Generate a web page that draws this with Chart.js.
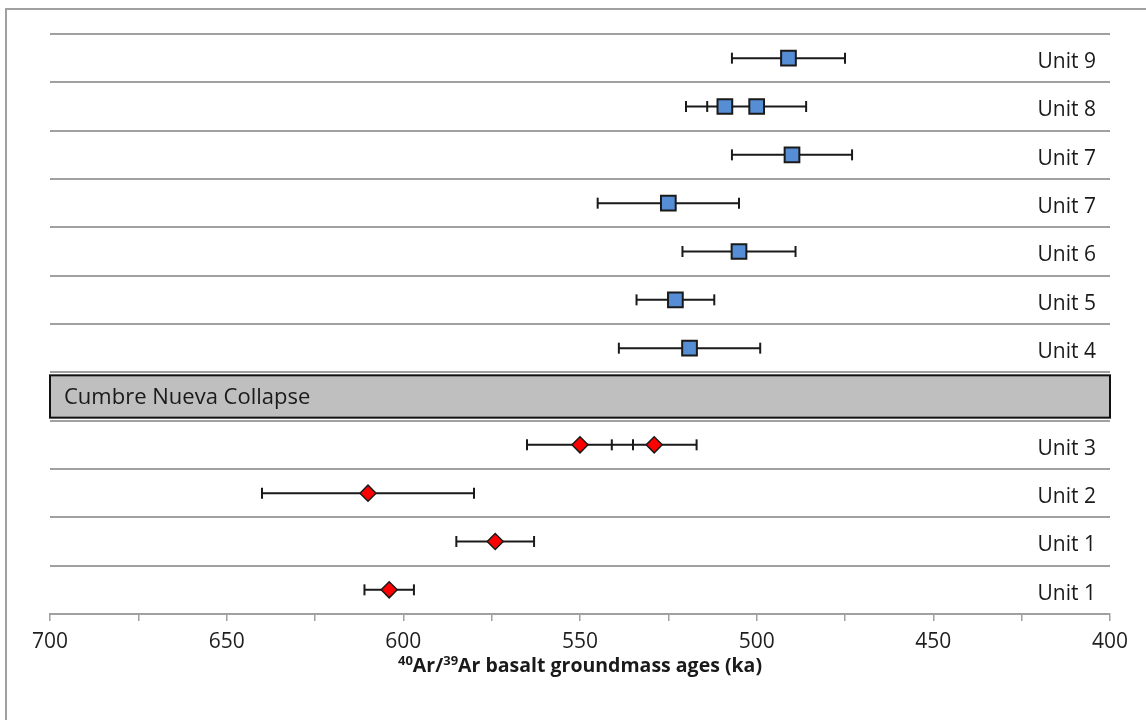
<!DOCTYPE html>
<html>
<head>
<meta charset="utf-8">
<script src="https://cdn.jsdelivr.net/npm/chart.js@4.4.0/dist/chart.umd.min.js"></script>
<style>
  html, body { margin: 0; padding: 0; background: #fff; overflow: hidden; }
  #frame { position: absolute; left: 5px; top: 8px; width: 1200px; height: 800px; border: 2px solid #a0a0a0; box-sizing: border-box; }
  #ageChart { position: absolute; left: 0; top: 0; }
</style>
</head>
<body>
<div id="frame"></div>
<canvas id="ageChart" width="1146" height="720"></canvas>
<script>
// rows top to bottom
var rowLabels = ['Unit 9', 'Unit 8', 'Unit 7', 'Unit 7', 'Unit 6', 'Unit 5', 'Unit 4',
                 'Cumbre Nueva Collapse', 'Unit 3', 'Unit 2', 'Unit 1', 'Unit 1'];
var collapseRow = 7;

// post-collapse ages (ka) and 2-sigma errors
var youngAges = [491, 509, 500, 490, 525, 505, 523, 519];
var youngErrors = [16, 11, 14, 17, 20, 16, 11, 20];
var youngRows = [0, 1, 1, 2, 3, 4, 5, 6];

// pre-collapse ages (ka)
var oldAges = [550, 529, 610, 574, 604];
var oldErrors = [15, 12, 30, 11, 7];
var oldRows = [8, 8, 9, 10, 11];

var labelledTicks = [700, 650, 600, 550, 500, 450, 400];

var toPoints = function(ages, rows) {
	return ages.map(function(a, i) { return { x: a, y: rows[i] + 0.5 }; });
};

// each error bar is a two point segment, broken by a null point
var toBars = function(ages, errs, rows) {
	var out = [];
	ages.forEach(function(a, i) {
		out.push({ x: a - errs[i], y: rows[i] + 0.5 });
		out.push({ x: a + errs[i], y: rows[i] + 0.5 });
		out.push({ x: null, y: null });
	});
	return out;
};

var barStyle = {
	type: 'line',
	borderColor: '#1a1a1a',
	borderWidth: 2,
	pointStyle: 'line',
	pointRotation: 90,
	pointRadius: 5.5,
	pointBorderWidth: 2,
	pointBorderColor: '#1a1a1a',
	spanGaps: false,
	fill: false,
	order: 2
};

var rowDecor = {
	id: 'rowDecor',
	beforeDatasetsDraw: function(chart) {
		var ctx = chart.ctx, area = chart.chartArea, y = chart.scales.y;
		var top = y.getPixelForValue(collapseRow) + 3;
		var bottom = y.getPixelForValue(collapseRow + 1) - 3;
		ctx.save();
		ctx.fillStyle = '#bfbfbf';
		ctx.fillRect(area.left, top, area.right - area.left, bottom - top);
		ctx.strokeStyle = '#111';
		ctx.lineWidth = 2;
		ctx.strokeRect(area.left, top, area.right - area.left, bottom - top);

		ctx.fillStyle = '#1a1a1a';
		ctx.textBaseline = 'middle';
		ctx.font = '22px "Open Sans"';
		ctx.textAlign = 'left';
		ctx.fillText(rowLabels[collapseRow], area.left + 14, (top + bottom) / 2 + 1);

		ctx.font = '21px "Open Sans"';
		ctx.textAlign = 'right';
		rowLabels.forEach(function(lbl, i) {
			if (i === collapseRow) return;
			ctx.fillText(lbl, area.right - 14, y.getPixelForValue(i + 0.5) + 4);
		});
		ctx.restore();
	},
	afterDraw: function(chart) {
		// axis title with superscript isotope numbers
		var ctx = chart.ctx, area = chart.chartArea;
		var parts = [['40', true], ['Ar/', false], ['39', true], ['Ar basalt groundmass ages (ka)', false]];
		var big = 'bold 19.5px "Open Sans"', small = 'bold 13px "Open Sans"';
		ctx.save();
		var total = 0;
		parts.forEach(function(p) {
			ctx.font = p[1] ? small : big;
			total += ctx.measureText(p[0]).width;
		});
		var x = (area.left + area.right) / 2 - total / 2;
		var base = 672;
		ctx.fillStyle = '#1a1a1a';
		ctx.textBaseline = 'alphabetic';
		ctx.textAlign = 'left';
		parts.forEach(function(p) {
			ctx.font = p[1] ? small : big;
			ctx.fillText(p[0], x, p[1] ? base - 7 : base);
			x += ctx.measureText(p[0]).width;
		});
		ctx.restore();
	}
};

var chart = new Chart(document.getElementById('ageChart'), {
	type: 'scatter',
	data: {
		datasets: [
			Object.assign({ data: toBars(youngAges, youngErrors, youngRows) }, barStyle),
			Object.assign({ data: toBars(oldAges, oldErrors, oldRows) }, barStyle),
			{
				data: toPoints(youngAges, youngRows),
				pointStyle: 'rect',
				pointRadius: 10.4,
				backgroundColor: '#558ed5',
				borderColor: '#1a1a1a',
				borderWidth: 2,
				order: 0
			},
			{
				data: toPoints(oldAges, oldRows),
				pointStyle: 'rectRot',
				pointRadius: 8,
				backgroundColor: '#ff0000',
				borderColor: '#1a1a1a',
				borderWidth: 1.5,
				order: 0
			}
		]
	},
	options: {
		responsive: false,
		animation: false,
		devicePixelRatio: 1,
		layout: { padding: { left: 50, right: 36, top: 34, bottom: 0 } },
		plugins: {
			legend: { display: false },
			tooltip: { enabled: false }
		},
		scales: {
			x: {
				type: 'linear',
				position: 'bottom',
				min: 400,
				max: 700,
				reverse: true,
				afterFit: function(s) { s.height = 106; },
				border: { color: '#a0a0a0', width: 2 },
				grid: { drawOnChartArea: false, drawTicks: true, tickLength: 7, color: '#a0a0a0', lineWidth: 1.5 },
				ticks: {
					stepSize: 25,
					autoSkip: false,
					maxRotation: 0,
					padding: 8,
					color: '#1f1f1f',
					font: { family: '"Open Sans"', size: 21 },
					callback: function(v) { return labelledTicks.indexOf(v) >= 0 ? String(v) : ''; }
				}
			},
			y: {
				type: 'linear',
				min: 0,
				max: rowLabels.length,
				reverse: true,
				afterFit: function(s) { s.width = 0; },
				border: { display: false },
				grid: { color: '#a0a0a0', lineWidth: 2, drawTicks: false },
				ticks: { display: false, stepSize: 1 }
			}
		}
	},
	plugins: [rowDecor]
});
</script>
</body>
</html>
